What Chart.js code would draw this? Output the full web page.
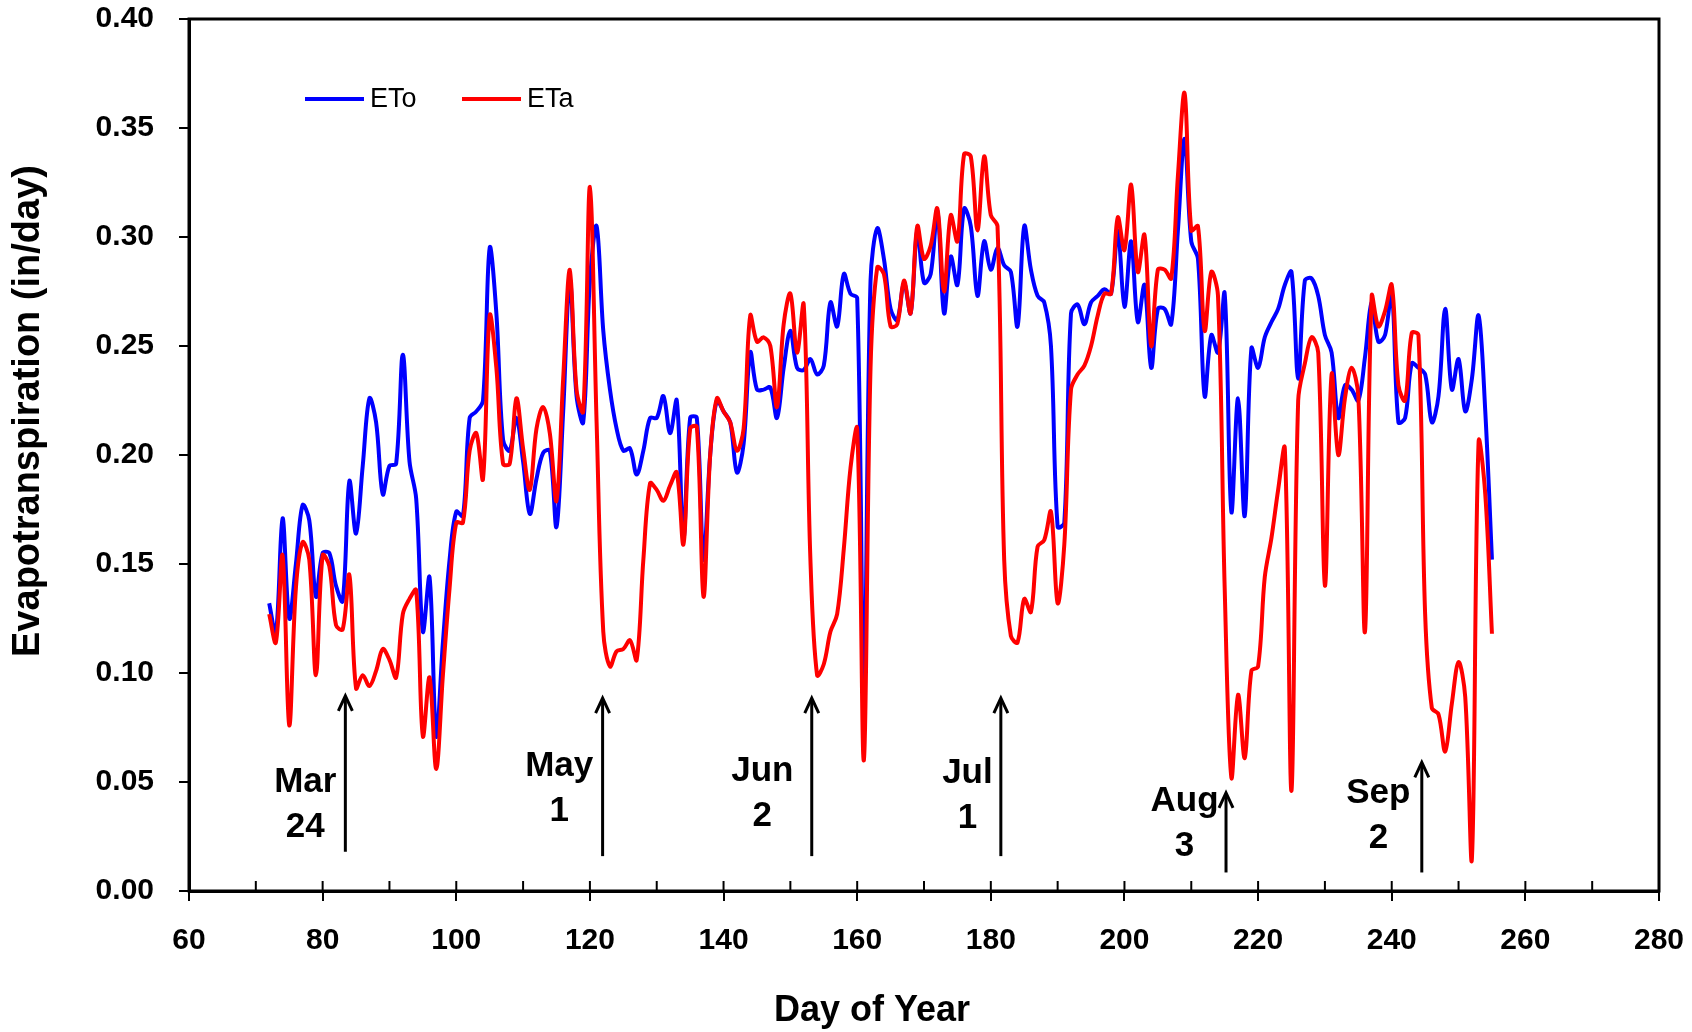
<!DOCTYPE html>
<html>
<head>
<meta charset="utf-8">
<script src="https://cdn.jsdelivr.net/npm/chart.js@4"></script>
<style>
    html, body { margin: 0; padding: 0; background: #fff; }
    canvas { display: block; }
</style>
</head>
<body>
<canvas id="et-chart" width="1692" height="1032"></canvas>
<script>
// Daily values, day of year 72 .. 255
const firstDay = 72;
const etoValues = [
    0.132, 0.118, 0.171, 0.125, 0.150, 0.177, 0.170, 0.135, 0.155, 0.155,
    0.140, 0.133, 0.188, 0.164, 0.195, 0.226, 0.215, 0.182, 0.195, 0.196,
    0.246, 0.197, 0.180, 0.119, 0.144, 0.071, 0.114, 0.152, 0.174, 0.172,
    0.217, 0.220, 0.225, 0.295, 0.265, 0.207, 0.202, 0.217, 0.197, 0.173,
    0.189, 0.201, 0.202, 0.167, 0.220, 0.280, 0.227, 0.215, 0.280, 0.305,
    0.257, 0.230, 0.212, 0.202, 0.203, 0.191, 0.202, 0.217, 0.217, 0.227,
    0.210, 0.225, 0.162, 0.217, 0.217, 0.152, 0.200, 0.225, 0.220, 0.215,
    0.192, 0.205, 0.247, 0.230, 0.230, 0.231, 0.217, 0.240, 0.257, 0.240,
    0.239, 0.244, 0.237, 0.241, 0.270, 0.259, 0.283, 0.274, 0.272, 0.090,
    0.280, 0.304, 0.290, 0.267, 0.262, 0.279, 0.265, 0.303, 0.279, 0.283,
    0.312, 0.265, 0.291, 0.278, 0.313, 0.305, 0.273, 0.298, 0.285, 0.295,
    0.287, 0.284, 0.259, 0.305, 0.285, 0.273, 0.270, 0.250, 0.167, 0.169,
    0.265, 0.269, 0.260, 0.270, 0.273, 0.276, 0.274, 0.303, 0.268, 0.298,
    0.261, 0.278, 0.240, 0.267, 0.267, 0.260, 0.303, 0.345, 0.298, 0.290,
    0.227, 0.255, 0.247, 0.274, 0.174, 0.226, 0.172, 0.249, 0.240, 0.254,
    0.261, 0.267, 0.278, 0.284, 0.235, 0.280, 0.281, 0.273, 0.255, 0.247,
    0.217, 0.232, 0.230, 0.225, 0.245, 0.270, 0.252, 0.255, 0.275, 0.215,
    0.217, 0.242, 0.240, 0.237, 0.215, 0.227, 0.267, 0.230, 0.244, 0.220,
    0.235, 0.264, 0.220, 0.152
];
const etaValues = [
    0.127, 0.114, 0.154, 0.076, 0.139, 0.160, 0.152, 0.099, 0.154, 0.149,
    0.122, 0.120, 0.145, 0.093, 0.099, 0.094, 0.101, 0.111, 0.106, 0.098,
    0.127, 0.134, 0.138, 0.071, 0.098, 0.056, 0.099, 0.139, 0.169, 0.169,
    0.202, 0.210, 0.189, 0.264, 0.240, 0.196, 0.196, 0.226, 0.203, 0.184,
    0.212, 0.222, 0.210, 0.179, 0.235, 0.285, 0.230, 0.220, 0.323, 0.215,
    0.119, 0.103, 0.110, 0.111, 0.115, 0.106, 0.152, 0.187, 0.184, 0.179,
    0.186, 0.192, 0.159, 0.212, 0.213, 0.135, 0.200, 0.226, 0.220, 0.215,
    0.202, 0.212, 0.264, 0.252, 0.254, 0.250, 0.222, 0.260, 0.274, 0.247,
    0.269, 0.152, 0.099, 0.104, 0.119, 0.127, 0.157, 0.194, 0.212, 0.060,
    0.240, 0.286, 0.283, 0.259, 0.260, 0.280, 0.265, 0.305, 0.290, 0.296,
    0.313, 0.275, 0.310, 0.298, 0.338, 0.337, 0.303, 0.337, 0.310, 0.305,
    0.152, 0.117, 0.114, 0.134, 0.128, 0.158, 0.161, 0.174, 0.132, 0.159,
    0.230, 0.237, 0.241, 0.250, 0.264, 0.274, 0.274, 0.309, 0.294, 0.324,
    0.284, 0.301, 0.250, 0.285, 0.285, 0.281, 0.328, 0.366, 0.303, 0.305,
    0.257, 0.284, 0.273, 0.139, 0.052, 0.090, 0.061, 0.101, 0.103, 0.144,
    0.162, 0.184, 0.203, 0.046, 0.225, 0.242, 0.254, 0.247, 0.140, 0.237,
    0.200, 0.226, 0.240, 0.227, 0.119, 0.273, 0.259, 0.266, 0.278, 0.232,
    0.225, 0.256, 0.255, 0.127, 0.084, 0.081, 0.064, 0.086, 0.105, 0.089,
    0.015, 0.206, 0.182, 0.118
];

// Date markers (day of year, arrow from bottom value up to tip value)
const markerText = [['Mar', '24'], ['May', '1'], ['Jun', '2'], ['Jul', '1'], ['Aug', '3'], ['Sep', '2']];
const markerDays = [83.4, 121.9, 153.2, 181.5, 215.2, 244.5];
const markerTips = [0.0895, 0.0885, 0.0885, 0.0885, 0.045, 0.059];
const markerBases = [0.018, 0.016, 0.016, 0.016, 0.0085, 0.0085];
const markerTextDays = [77.4, 115.4, 145.8, 176.5, 209.0, 238.0];
const markerTextValues = [0.050, 0.057, 0.055, 0.054, 0.041, 0.045];

const toPoints = values => values.map((v, i) => ({ x: firstDay + i, y: v }));

const fontFamily = '"Liberation Sans", Arial, sans-serif';

// Frame, inner ticks, legend, axis titles and date arrows
const extras = {
    id: 'extras',
    afterDraw(chart) {
        const { ctx, chartArea: area, scales: { x, y } } = chart;
        ctx.save();

        ctx.strokeStyle = '#000';
        ctx.lineWidth = 3;
        ctx.strokeRect(area.left, area.top, area.right - area.left, area.bottom - area.top);

        // small inward ticks on the x axis every 10 days
        ctx.lineWidth = 2;
        for (let d = 70; d < 280; d += 10) {
            const px = x.getPixelForValue(d);
            ctx.beginPath();
            ctx.moveTo(px, area.bottom);
            ctx.lineTo(px, area.bottom - 10);
            ctx.stroke();
        }

        // legend
        const legendItems = [['ETo', '#0000ff'], ['ETa', '#ff0000']];
        let lx = area.left + 116;
        const ly = area.top + 80;
        ctx.font = '27px ' + fontFamily;
        ctx.textBaseline = 'middle';
        ctx.textAlign = 'left';
        legendItems.forEach(([label, color]) => {
            ctx.strokeStyle = color;
            ctx.lineWidth = 4;
            ctx.beginPath();
            ctx.moveTo(lx, ly);
            ctx.lineTo(lx + 59, ly);
            ctx.stroke();
            ctx.fillStyle = '#000';
            ctx.fillText(label, lx + 65, ly + 1);
            lx += 157;
        });

        // axis titles
        ctx.fillStyle = '#000';
        ctx.textAlign = 'center';
        ctx.font = 'bold 36px ' + fontFamily;
        ctx.fillText('Day of Year', area.left + 683, area.bottom + 120);
        ctx.save();
        ctx.translate(area.left - 160, area.top + 392);
        ctx.rotate(-Math.PI / 2);
        ctx.font = 'bold 38px ' + fontFamily;
        ctx.fillText('Evapotranspiration (in/day)', 0, 0);
        ctx.restore();

        // arrows with date labels
        ctx.strokeStyle = '#000';
        ctx.font = 'bold 35px ' + fontFamily;
        markerDays.forEach((day, i) => {
            const px = x.getPixelForValue(day);
            const top = y.getPixelForValue(markerTips[i]);
            const base = y.getPixelForValue(markerBases[i]);
            ctx.lineWidth = 3;
            ctx.beginPath();
            ctx.moveTo(px, base);
            ctx.lineTo(px, top + 2);
            ctx.stroke();
            ctx.beginPath();
            ctx.moveTo(px - 7, top + 15);
            ctx.lineTo(px, top);
            ctx.lineTo(px + 7, top + 15);
            ctx.stroke();

            const tx = x.getPixelForValue(markerTextDays[i]);
            const ty = y.getPixelForValue(markerTextValues[i]);
            ctx.fillText(markerText[i][0], tx, ty);
            ctx.fillText(markerText[i][1], tx, ty + 45);
        });

        ctx.restore();
    }
};

new Chart(document.getElementById('et-chart'), {
    type: 'line',
    data: {
        datasets: [
            {
                label: 'ETo',
                data: toPoints(etoValues),
                borderColor: '#0000ff',
                borderWidth: 4,
                pointRadius: 0,
                tension: 0.35,
                order: 1
            },
            {
                label: 'ETa',
                data: toPoints(etaValues),
                borderColor: '#ff0000',
                borderWidth: 4,
                pointRadius: 0,
                tension: 0.35,
                order: 0
            }
        ]
    },
    options: {
        responsive: false,
        animation: false,
        layout: { padding: { left: 0, top: 19, right: 33, bottom: 0 } },
        plugins: {
            legend: { display: false },
            tooltip: { enabled: false }
        },
        scales: {
            x: {
                type: 'linear',
                min: 60,
                max: 280,
                afterFit: scale => {
                    scale.height = 141;
                    scale.paddingLeft = 0;
                    scale.paddingRight = 0;
                },
                border: { color: '#000', width: 3 },
                grid: {
                    drawOnChartArea: false,
                    drawTicks: true,
                    tickLength: 10,
                    lineWidth: 2,
                    color: ctx => (ctx.tick && ctx.tick.value % 20 === 0) ? '#000' : 'rgba(0,0,0,0)'
                },
                ticks: {
                    stepSize: 10,
                    autoSkip: false,
                    maxRotation: 0,
                    padding: 22,
                    color: '#000',
                    font: { family: fontFamily, size: 30, weight: 'bold' },
                    callback: v => (v % 20 === 0 ? v : '')
                }
            },
            y: {
                min: 0,
                max: 0.4,
                afterFit: scale => {
                    scale.width = 189;
                    scale.paddingTop = 0;
                    scale.paddingBottom = 0;
                },
                border: { color: '#000', width: 3 },
                grid: {
                    drawOnChartArea: false,
                    drawTicks: true,
                    tickLength: 10,
                    lineWidth: 2,
                    color: '#000'
                },
                ticks: {
                    stepSize: 0.05,
                    padding: 25,
                    color: '#000',
                    font: { family: fontFamily, size: 30, weight: 'bold' },
                    callback: v => v.toFixed(2)
                }
            }
        }
    },
    plugins: [extras]
});
</script>
</body>
</html>
